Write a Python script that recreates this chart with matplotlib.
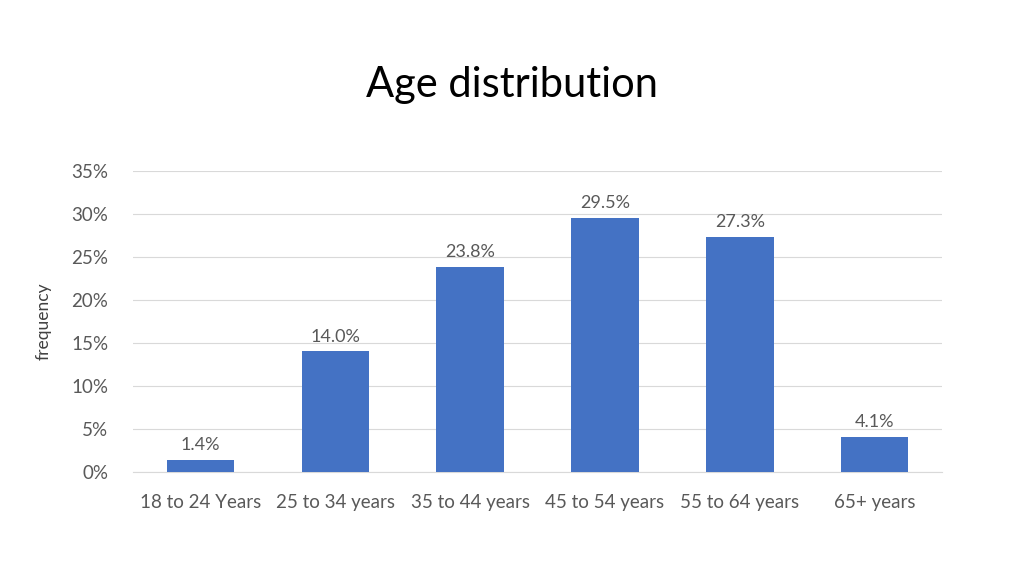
import matplotlib.pyplot as plt
from matplotlib.ticker import PercentFormatter

categories = ["18 to 24 Years", "25 to 34 years", "35 to 44 years",
              "45 to 54 years", "55 to 64 years", "65+ years"]
values = [1.4, 14.0, 23.8, 29.5, 27.3, 4.1]

plt.rcParams["font.family"] = "Lato"

fig = plt.figure(figsize=(10.24, 5.76), dpi=100)
ax = fig.add_axes([0.130, 0.181, 0.790, 0.522])

x = range(len(categories))
bars = ax.bar(x, values, width=0.5, color="#4472C4", zorder=3)
for xi, v in zip(x, values):
    ax.text(xi, v + 0.8, f"{v:.1f}%", ha="center", va="bottom",
            fontsize=13, color="#595959")

ax.set_ylim(0, 35)
ax.set_xlim(-0.5, len(categories) - 0.5)
ax.set_yticks(range(0, 36, 5))
ax.yaxis.set_major_formatter(PercentFormatter(decimals=0))
ax.set_xticks(list(x))
ax.set_xticklabels(categories)
ax.tick_params(axis="both", length=0, labelsize=13.5, colors="#595959")
ax.tick_params(axis="x", pad=16)
ax.tick_params(axis="y", pad=18)
ax.grid(axis="y", color="#D9D9D9", linewidth=0.8, zorder=0)
for s in ["top", "right", "left"]:
    ax.spines[s].set_visible(False)
ax.spines["bottom"].set_color("#D9D9D9")
ax.set_ylabel("frequency", fontsize=12.5, color="#404040", labelpad=14)

fig.text(0.5, 0.852, "Age distribution", ha="center", va="center",
         fontsize=30, color="#000000")

fig.savefig("out.png", dpi=100)
